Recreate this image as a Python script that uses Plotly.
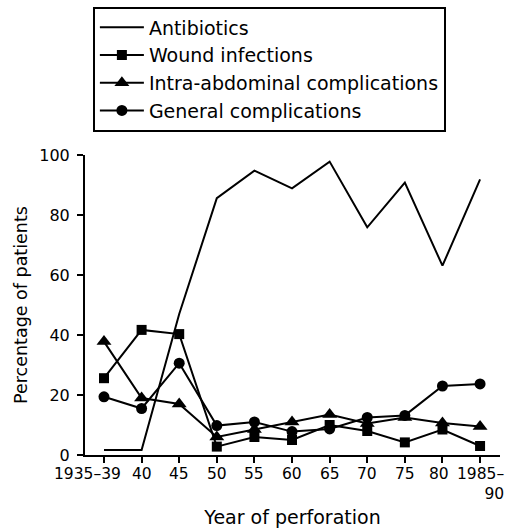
import plotly.graph_objects as go

categories = ["1935–39", "40", "45", "50", "55", "60", "65", "70", "75", "80", "1985–90"]
tick_labels = ["1935–39", "40", "45", "50", "55", "60", "65", "70", "75", "80", "1985–<br>90"]
antibiotics = [1.7, 1.7, 47, 85.6, 94.8, 88.9, 97.8, 75.9, 90.8, 63.1, 91.9]
wound = [25.6, 41.7, 40.3, 2.8, 6.0, 5.0, 10.0, 8.0, 4.2, 8.5, 3.0]
intra = [37.8, 19.0, 17.0, 6.0, 8.5, 11.0, 13.5, 10.5, 12.5, 10.7, 9.5]
general = [19.4, 15.5, 30.6, 9.8, 11.0, 7.8, 8.7, 12.5, 13.2, 23.0, 23.7]

xs = list(range(len(categories)))
FONT = "DejaVu Sans"

fig = go.Figure()
fig.add_trace(go.Scatter(x=xs, y=antibiotics, mode="lines", name="Antibiotics",
                         line=dict(color="black", width=2), cliponaxis=False))
fig.add_trace(go.Scatter(x=xs, y=wound, mode="lines+markers", name="Wound infections",
                         line=dict(color="black", width=2),
                         marker=dict(symbol="square", size=10, color="black"), cliponaxis=False))
fig.add_trace(go.Scatter(x=xs, y=intra, mode="lines+markers", name="Intra-abdominal complications",
                         line=dict(color="black", width=2),
                         marker=dict(symbol="triangle-up", size=13, color="black"), cliponaxis=False))
fig.add_trace(go.Scatter(x=xs, y=general, mode="lines+markers", name="General complications",
                         line=dict(color="black", width=2),
                         marker=dict(symbol="circle", size=11, color="black"), cliponaxis=False))

# x tick labels as annotations so each can be aligned like the original
annotations = []
for i, lab in enumerate(tick_labels):
    if i == 0:
        anchor, shift, align = "right", 19, "right"
    elif i == len(tick_labels) - 1:
        anchor, shift, align = "center", 0, "right"
    elif i == len(tick_labels) - 2:
        anchor, shift, align = "center", -3, "center"
    else:
        anchor, shift, align = "center", 0, "center"
    annotations.append(dict(x=xs[i], y=0, xref="x", yref="paper", text=lab,
                            showarrow=False, xanchor=anchor, yanchor="top",
                            xshift=shift, yshift=-8, align=align,
                            font=dict(family=FONT, size=15.5, color="black")))

fig.update_layout(
    width=515, height=528,
    margin=dict(l=85, r=15, t=155, b=73, autoexpand=False),
    paper_bgcolor="white", plot_bgcolor="white",
    font=dict(family=FONT, color="black", size=16),
    showlegend=True,
    legend=dict(x=0.019, y=1.495, xanchor="left", yanchor="top",
                bordercolor="black", borderwidth=2, bgcolor="white",
                font=dict(family=FONT, size=19, color="black"),
                itemwidth=44, tracegroupgap=0),
    annotations=annotations,
    xaxis=dict(range=[-0.505, 10.53], tickmode="array", tickvals=xs, showticklabels=False,
               showgrid=False, zeroline=False, showline=True, linecolor="black", linewidth=2,
               ticks="outside", ticklen=6, tickwidth=2, tickcolor="black",
               title=dict(text="Year of perforation", font=dict(size=19), standoff=53),
               automargin=False),
    yaxis=dict(range=[0, 100], tickvals=[0, 20, 40, 60, 80, 100],
               showgrid=False, zeroline=False, showline=True, linecolor="black", linewidth=2,
               ticks="outside", ticklen=6, tickwidth=2, tickcolor="black",
               tickfont=dict(size=16), ticklabelstandoff=4,
               title=dict(text="Percentage of patients", font=dict(size=17.5), standoff=7),
               automargin=False),
)

fig.write_html("out.html", config={"displayModeBar": False},
               post_script="document.body.style.margin='0px';")
